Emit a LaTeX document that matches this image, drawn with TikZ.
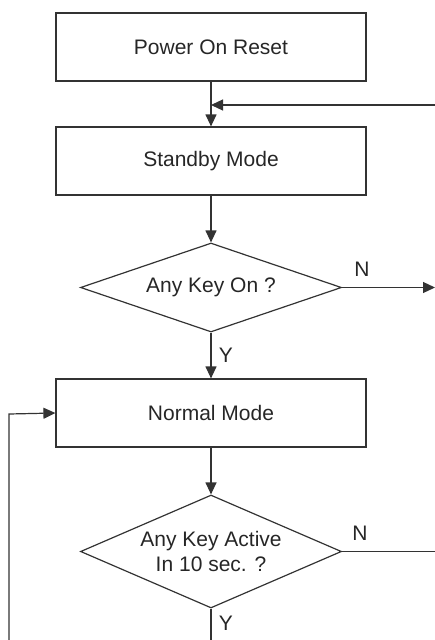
\documentclass[tikz,border=0pt]{standalone}
\usepackage{fontspec}
\setmainfont{Liberation Sans}
\usetikzlibrary{arrows.meta,shapes.geometric}
\begin{document}
\begin{tikzpicture}[x=1pt,y=-1pt,
  box/.style={draw=black!80,line width=1.2pt,minimum width=310pt,minimum height=68pt,inner sep=0pt,font=\fontsize{21}{25}\selectfont,text=black!85},
  dec/.style={draw=black!80,line width=1.2pt,diamond,inner sep=0pt,font=\fontsize{21}{25}\selectfont,text=black!85,align=center},
  lbl/.style={font=\fontsize{21}{25}\selectfont,text=black!85,inner sep=0pt},
  arr/.style={-{Triangle[length=12pt,width=11pt]},draw=black!80,line width=1.2pt},
  ln/.style={draw=black!80,line width=1.2pt}]
\useasboundingbox (0,0) rectangle (435,640);
\node[box] (por) at (211,47) {Power On Reset};
\node[box] (stb) at (211,161) {Standby Mode};
\node[dec,aspect=2.93,minimum width=261pt,minimum height=89pt] (d1) at (211,287.5) {Any Key On ?};
\node[box] (nor) at (211,413) {Normal Mode};
\node[dec,aspect=2.31,minimum width=261pt,minimum height=113pt] (d2) at (211,551.5) {Any Key Active\\In 10 sec. ?};
\coordinate (j1) at (211,105);
\coordinate (in1) at (435,105);
\coordinate (out1) at (435,287.5);
\coordinate (out2) at (435,551.5);
\coordinate (bot) at (211,640);
\coordinate (fb0) at (9,640);
\coordinate (fb1) at (9,414);
\draw[arr] (por.south) -- (stb.north);
\draw[arr] (in1) -- (j1);
\draw[arr] (stb.south) -- (d1.north);
\draw[arr] (d1.east) -- (out1);
\draw[arr] (d1.south) -- (nor.north);
\draw[arr] (nor.south) -- (d2.north);
\draw[ln] (d2.east) -- (out2);
\draw[ln] (d2.south) -- (bot);
\draw[arr] (fb0) -- (fb1) -- (nor.west);
\node[lbl] (n1) at (362,269) {N};
\node[lbl] (y1) at (226,355) {Y};
\node[lbl] (n2) at (360,533) {N};
\node[lbl] (y2) at (226,623) {Y};
\end{tikzpicture}
\end{document}
